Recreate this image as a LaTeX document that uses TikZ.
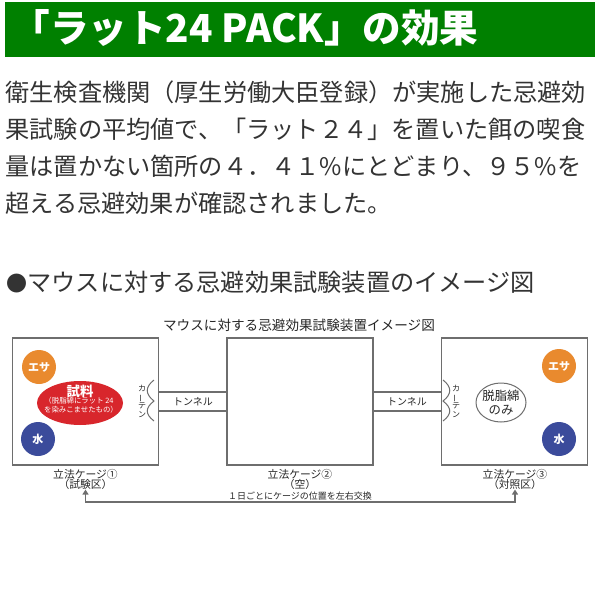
\documentclass[tikz,border=0pt]{standalone}
\usepackage{fontspec}
\setmainfont{Noto Sans CJK JP}
\usetikzlibrary{shapes.geometric,arrows.meta}
\definecolor{hdgreen}{HTML}{008000}
\definecolor{bodytxt}{HTML}{333333}
\definecolor{linegray}{HTML}{6E6E6E}
\definecolor{esaorange}{HTML}{E98A2E}
\definecolor{mizublue}{HTML}{3B4B9B}
\definecolor{samplered}{HTML}{D8262C}
\newcommand\fsz[1]{\fontsize{#1}{#1}\selectfont}
\begin{document}
\begin{tikzpicture}[x=0.5pt,y=-0.5pt,
  bodyline/.style={anchor=west,inner sep=0pt,text=bodytxt,font=\fsz{12.1pt}},
  cage/.style={draw=linegray,line width=0.6pt,minimum width=73pt,minimum height=63.5pt,inner sep=0pt},
  conn/.style={draw=linegray,line width=0.6pt},
  dot/.style={circle,minimum size=17pt,inner sep=0pt,text=white,font=\bfseries\fsz{5.5pt}},
  small/.style={inner sep=0pt,text=black!85,font=\fsz{#1}},
  curtaintxt/.style={inner sep=0pt,align=center,text=black!85,font=\fontsize{4pt}{4.4pt}\selectfont}
]
\useasboundingbox (0,0) rectangle (600,600);
% header
\node[fill=hdgreen,minimum width=295pt,minimum height=27.5pt,inner sep=0pt] (bar) at (300,29.5) {};
\node[anchor=west,inner sep=0pt,text=white,font=\bfseries\fsz{19.3pt}] (title) at (11,28) {「ラット24 PACK」の効果};
% body
\node[bodyline] (p1) at (5,92) {衛生検査機関（厚生労働大臣登録）が実施した忌避効};
\node[bodyline] (p2) at (5,129) {果試験の平均値で、「ラット２４」を置いた餌の喫食};
\node[bodyline] (p3) at (5,166) {量は置かない箇所の４．４１\%にとどまり、９５\%を};
\node[bodyline] (p4) at (5,203) {超える忌避効果が確認されました。};
\node[bodyline] (p5) at (6,282) {{\fsz{10.5pt}●}マウスに対する忌避効果試験装置のイメージ図};
% diagram
\node[small=6.8pt] (dtitle) at (299,325) {マウスに対する忌避効果試験装置イメージ図};
\node[cage] (c1) at (85.5,401.5) {};
\node[cage] (c2) at (300,401.5) {};
\node[cage] (c3) at (514.5,401.5) {};
\draw[conn] ([yshift=4.75pt]c1.east) -- ([yshift=4.75pt]c2.west);
\draw[conn] ([yshift=-4.75pt]c1.east) -- ([yshift=-4.75pt]c2.west);
\draw[conn] ([yshift=4.75pt]c2.east) -- ([yshift=4.75pt]c3.west);
\draw[conn] ([yshift=-4.75pt]c2.east) -- ([yshift=-4.75pt]c3.west);
\node[small=5pt] (t1) at (193,402) {トンネル};
\node[small=5pt] (t2) at (407,402) {トンネル};
% curtains
\draw[conn,line width=0.5pt] (154,380) .. controls (145,387) and (145,394) .. (154,401) .. controls (145,408) and (145,414) .. (154,421);
\draw[conn,line width=0.5pt] (443,380) .. controls (452,387) and (452,394) .. (443,401) .. controls (452,408) and (452,414) .. (443,421);
\node[curtaintxt] (k1) at (142,401.5) {カ\\\rotatebox[origin=c]{90}{ー}\\テ\\ン};
\node[curtaintxt] (k3) at (456,401.5) {カ\\\rotatebox[origin=c]{90}{ー}\\テ\\ン};
% cage 1 contents
\node[dot,fill=esaorange] (esa1) at (39,367) {エサ};
\node[dot,fill=mizublue] (mizu1) at (38,439) {水};
\node[ellipse,fill=samplered,minimum width=43pt,minimum height=22pt,inner sep=0pt] (bait) at (80,403) {};
\node[inner sep=0pt,text=white,font=\bfseries\fsz{6.7pt}] (bait1) at (80,391) {試料};
\node[inner sep=0pt,text=white,font=\fsz{3.7pt}] (bait2) at (79,401) {（脱脂綿にラット 24};
\node[inner sep=0pt,text=white,font=\fsz{3.7pt}] (bait3) at (81,410) {を染みこませたもの）};
% cage 3 contents
\node[dot,fill=esaorange] (esa3) at (559,366) {エサ};
\node[dot,fill=mizublue] (mizu3) at (559,439) {水};
\node[ellipse,draw=linegray,line width=0.5pt,fill=white,minimum width=25pt,minimum height=19.5pt,inner sep=0pt] (cotton) at (501,402.5) {};
\node[small=6.2pt] (cot1) at (501,396) {脱脂綿};
\node[small=6.2pt] (cot2) at (501,410) {のみ};
% labels
\node[small=5.4pt] (l1a) at (85.5,474) {立法ケージ①};
\node[small=5.4pt] (l1b) at (85.5,484) {（試験区）};
\node[small=5.4pt] (l2a) at (300,474) {立法ケージ②};
\node[small=5.4pt] (l2b) at (300,484) {（空）};
\node[small=5.4pt] (l3a) at (515,474) {立法ケージ③};
\node[small=5.4pt] (l3b) at (515,484) {（対照区）};
\coordinate (swap) at (300,502);
\draw[conn,{Triangle[width=3pt,length=2.5pt]}-{Triangle[width=3pt,length=2.5pt]}] (l1b.south) |- (swap) -| (l3b.south);
\node[small=4.5pt] (swapt) at (300,496.5) {１日ごとにケージの位置を左右交換};
\end{tikzpicture}
\end{document}
